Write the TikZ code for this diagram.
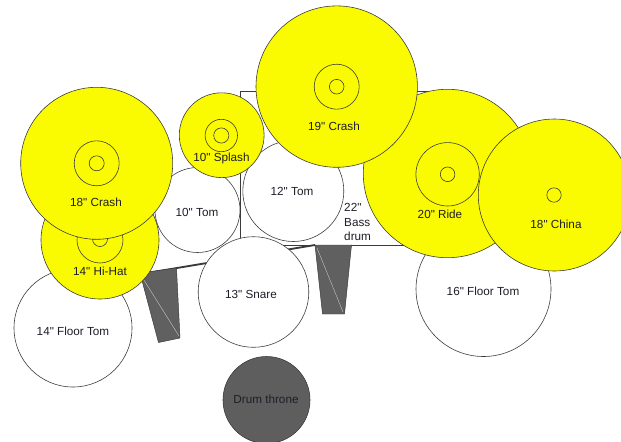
\documentclass[tikz,border=0pt]{standalone}
\usepackage{fontspec}
\setmainfont{Liberation Sans}[Ligatures=TeXOff]
\usepackage{xcolor}
\usetikzlibrary{positioning}
\definecolor{cymbalyellow}{HTML}{FAFA00}
\definecolor{rimgray}{HTML}{3A3A3A}
\definecolor{pedalgray}{HTML}{606060}
\definecolor{thronegray}{HTML}{5E5E5E}
\definecolor{inkdark}{HTML}{1E1E28}
\tikzstyle{cymbal} = [draw=rimgray, fill=cymbalyellow, line width=0.5pt]
\tikzstyle{ring} = [draw=rimgray, line width=0.5pt]
\tikzstyle{drumshell} = [draw=rimgray, fill=white, line width=0.5pt]
\tikzstyle{pedal} = [draw=rimgray, fill=pedalgray, line width=0.4pt]
\tikzstyle{drumtext} = [font=\fontsize{10}{12.5}\selectfont, text=inkdark, inner sep=0pt]

\begin{document}
\begin{tikzpicture}[x=0.03cm, y=-0.03cm]
  \useasboundingbox (0,0) rectangle (621,441);

  % bass drum and pedals
  \draw[drumshell] (240,91) rectangle (428,245);
  \node (bass) [drumtext, align=left, anchor=west] at (344,222) {22"\\Bass\\drum};
  \draw[rimgray, line width=1.6pt] (141,274) -- (315,245);
  \draw[pedal] (140,273) -- (176.5,268) -- (180,338) -- (158.5,342.5) -- cycle;
  \draw[white!70!pedalgray, line width=0.3pt] (142,277) -- (179,336);
  \draw[pedal] (315,245) -- (351.5,245) -- (344.5,314) -- (322.5,314) -- cycle;
  \draw[white!70!pedalgray, line width=0.3pt] (317,248) -- (343,312);

  % drums
  \draw[drumshell] (73,328) circle[radius=59];
  \node (floorL) [drumtext] at (73,331) {14" Floor Tom};
  \draw[drumshell] (483.5,289) circle[radius=67.5];
  \node (floorR) [drumtext] at (483,291) {16" Floor Tom};
  \draw[drumshell] (253.5,292) circle[radius=55.3];
  \node (snare) [drumtext] at (251,294) {13" Snare};
  \draw[draw=rimgray, fill=thronegray, line width=0.5pt] (266.5,400) circle[radius=43.5];
  \node (throne) [drumtext] at (266,399) {Drum throne};
  \draw[drumshell] (197.5,210) circle[radius=42.5];
  \node (tomA) [drumtext] at (197,212) {10" Tom};
  \draw[drumshell] (293.3,191) circle[radius=50.5];
  \node (tomB) [drumtext] at (292,191) {12" Tom};

  % cymbals
  \draw[cymbal] (100,240) circle[radius=59];
  \draw[ring] (100,240) circle[radius=23] (100,239) circle[radius=7.5];
  \node (hihat) [drumtext] at (100,271) {14" Hi-Hat};
  \draw[cymbal] (96.7,163.3) circle[radius=76];
  \draw[ring] (96.7,163.3) circle[radius=22.5] (96.7,163.3) circle[radius=7.5];
  \node (crashL) [drumtext] at (96,202) {18" Crash};
  \draw[cymbal] (221.7,135.2) circle[radius=42.4];
  \draw[ring] (221.3,135.5) circle[radius=16.2] (221.3,135.5) circle[radius=7.6];
  \node (splash) [drumtext] at (221.5,158.5) {10" Splash};
  \draw[cymbal] (447.5,173.5) circle[radius=84.2];
  \draw[ring] (447.6,174.3) circle[radius=31.7] (447.6,174.3) circle[radius=7.3];
  \node (ride) [drumtext] at (440,214) {20" Ride};
  \draw[cymbal] (336.7,86.6) circle[radius=80.7];
  \draw[ring] (336.7,86.7) circle[radius=22.5] (336.7,86.7) circle[radius=7.3];
  \node (crashM) [drumtext] at (334,126) {19" Crash};
  \draw[cymbal] (554.3,195) circle[radius=76];
  \draw[ring] (554,195) circle[radius=7.2];
  \node (china) [drumtext] at (556,224) {18" China};
\end{tikzpicture}
\end{document}
